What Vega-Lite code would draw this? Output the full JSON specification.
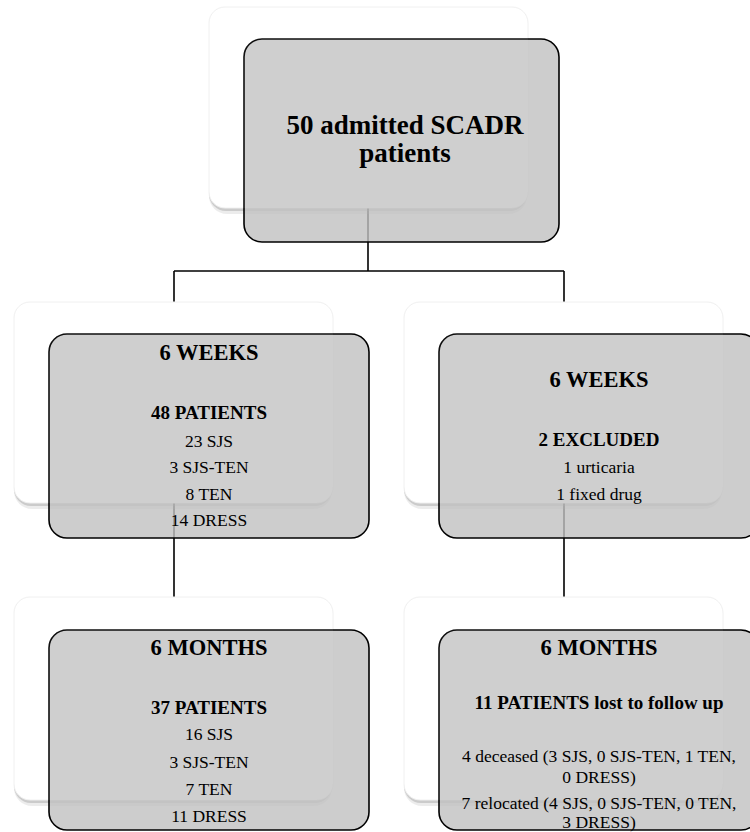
{
  "$schema": "https://vega.github.io/schema/vega-lite/v6.json",
  "width": 750,
  "height": 832,
  "padding": 0,
  "autosize": {"type": "none"},
  "background": "white",
  "config": {"view": {"stroke": null}},
  "datasets": {
    "whiteBoxes": [
      {"id": "top", "x": 209, "x2": 528, "y": 7, "y2": 208},
      {"id": "L1", "x": 14, "x2": 333, "y": 302, "y2": 503},
      {"id": "R1", "x": 404, "x2": 723, "y": 302, "y2": 503},
      {"id": "L2", "x": 14, "x2": 333, "y": 597, "y2": 800},
      {"id": "R2", "x": 404, "x2": 723, "y": 597, "y2": 800}
    ],
    "shadowsOuter": [
      {"id": "top", "x": 209, "x2": 527, "y": 14, "y2": 214},
      {"id": "L1", "x": 14, "x2": 332, "y": 309, "y2": 509},
      {"id": "R1", "x": 404, "x2": 722, "y": 309, "y2": 509},
      {"id": "L2", "x": 14, "x2": 332, "y": 604, "y2": 806},
      {"id": "R2", "x": 404, "x2": 722, "y": 604, "y2": 806}
    ],
    "shadowsInner": [
      {"id": "top", "x": 209, "x2": 527, "y": 11, "y2": 211},
      {"id": "L1", "x": 14, "x2": 332, "y": 306, "y2": 506},
      {"id": "R1", "x": 404, "x2": 722, "y": 306, "y2": 506},
      {"id": "L2", "x": 14, "x2": 332, "y": 601, "y2": 803},
      {"id": "R2", "x": 404, "x2": 722, "y": 601, "y2": 803}
    ],
    "grayBoxes": [
      {"id": "top", "x": 244, "x2": 559, "y": 39, "y2": 242},
      {"id": "L1", "x": 49, "x2": 369, "y": 334, "y2": 538},
      {"id": "R1", "x": 439, "x2": 759, "y": 334, "y2": 538},
      {"id": "L2", "x": 49, "x2": 369, "y": 630, "y2": 830},
      {"id": "R2", "x": 439, "x2": 759, "y": 630, "y2": 830}
    ],
    "links": [
      {"x": 368, "x2": 368, "y": 208, "y2": 271},
      {"x": 174, "x2": 564, "y": 271, "y2": 271},
      {"x": 174, "x2": 174, "y": 271, "y2": 302},
      {"x": 564, "x2": 564, "y": 271, "y2": 302},
      {"x": 174, "x2": 174, "y": 503, "y2": 597},
      {"x": 564, "x2": 564, "y": 503, "y2": 597}
    ],
    "labels": [
      {"kind": "title", "text": "50 admitted SCADR", "x": 405, "y": 126},
      {"kind": "title", "text": "patients", "x": 405, "y": 154},
      {"kind": "heading", "text": "6 WEEKS", "x": 209, "y": 353},
      {"kind": "heading", "text": "6 WEEKS", "x": 599, "y": 380},
      {"kind": "heading", "text": "6 MONTHS", "x": 209, "y": 648},
      {"kind": "heading", "text": "6 MONTHS", "x": 599, "y": 648},
      {"kind": "bold", "text": "48 PATIENTS", "x": 209, "y": 413},
      {"kind": "bold", "text": "2 EXCLUDED", "x": 599, "y": 440},
      {"kind": "bold", "text": "37 PATIENTS", "x": 209, "y": 708},
      {"kind": "bold", "text": "11 PATIENTS lost to follow up", "x": 599, "y": 703},
      {"kind": "body", "text": "23 SJS", "x": 209, "y": 442},
      {"kind": "body", "text": "3 SJS-TEN", "x": 209, "y": 468},
      {"kind": "body", "text": "8 TEN", "x": 209, "y": 495},
      {"kind": "body", "text": "14 DRESS", "x": 209, "y": 521},
      {"kind": "body", "text": "1 urticaria", "x": 599, "y": 468},
      {"kind": "body", "text": "1 fixed drug", "x": 599, "y": 495},
      {"kind": "body", "text": "16 SJS", "x": 209, "y": 735},
      {"kind": "body", "text": "3 SJS-TEN", "x": 209, "y": 763},
      {"kind": "body", "text": "7 TEN", "x": 209, "y": 790},
      {"kind": "body", "text": "11 DRESS", "x": 209, "y": 817},
      {"kind": "body", "text": "4 deceased (3 SJS, 0 SJS-TEN, 1 TEN,", "x": 599, "y": 757},
      {"kind": "body", "text": "0 DRESS)", "x": 599, "y": 778},
      {"kind": "body", "text": "7 relocated (4 SJS, 0 SJS-TEN, 0 TEN,", "x": 599, "y": 804},
      {"kind": "body", "text": "3 DRESS)", "x": 599, "y": 823}
    ]
  },
  "encoding": {
    "x": {"field": "x", "type": "quantitative", "axis": null, "scale": {"domain": [0, 750], "range": [0, 750], "nice": false, "zero": false}},
    "y": {"field": "y", "type": "quantitative", "axis": null, "scale": {"domain": [0, 832], "range": [0, 832], "nice": false, "zero": false}}
  },
  "layer": [
    {
      "data": {"name": "links"},
      "mark": {"type": "rule", "color": "black", "strokeWidth": 1.6},
      "encoding": {"x2": {"field": "x2"}, "y2": {"field": "y2"}}
    },
    {
      "data": {"name": "shadowsOuter"},
      "mark": {"type": "rect", "fill": "#888888", "opacity": 0.16, "cornerRadius": 18},
      "encoding": {"x2": {"field": "x2"}, "y2": {"field": "y2"}}
    },
    {
      "data": {"name": "shadowsInner"},
      "mark": {"type": "rect", "fill": "#777777", "opacity": 0.28, "cornerRadius": 17},
      "encoding": {"x2": {"field": "x2"}, "y2": {"field": "y2"}}
    },
    {
      "data": {"name": "whiteBoxes"},
      "mark": {"type": "rect", "fill": "white", "stroke": "#f0f0f0", "strokeWidth": 1, "cornerRadius": 16},
      "encoding": {"x2": {"field": "x2"}, "y2": {"field": "y2"}}
    },
    {
      "data": {"name": "grayBoxes"},
      "mark": {"type": "rect", "fill": "#c0c0c0", "fillOpacity": 0.8, "stroke": "black", "strokeWidth": 1.6, "cornerRadius": 18, "clip": true},
      "encoding": {"x2": {"field": "x2"}, "y2": {"field": "y2"}}
    },
    {
      "data": {"name": "whiteBoxes"},
      "mark": {"type": "rect", "fill": "white", "opacity": 0.06, "cornerRadius": 16},
      "encoding": {"x2": {"field": "x2"}, "y2": {"field": "y2"}}
    },
    {
      "data": {"name": "labels"},
      "transform": [{"filter": "datum.kind === 'title'"}],
      "mark": {"type": "text", "font": "Liberation Serif", "fontSize": 27, "fontWeight": "bold", "align": "center", "baseline": "middle", "color": "black"},
      "encoding": {"text": {"field": "text"}}
    },
    {
      "data": {"name": "labels"},
      "transform": [{"filter": "datum.kind === 'heading'"}],
      "mark": {"type": "text", "font": "Liberation Serif", "fontSize": 22.5, "fontWeight": "bold", "align": "center", "baseline": "middle", "color": "black"},
      "encoding": {"text": {"field": "text"}}
    },
    {
      "data": {"name": "labels"},
      "transform": [{"filter": "datum.kind === 'bold'"}],
      "mark": {"type": "text", "font": "Liberation Serif", "fontSize": 19, "fontWeight": "bold", "align": "center", "baseline": "middle", "color": "black"},
      "encoding": {"text": {"field": "text"}}
    },
    {
      "data": {"name": "labels"},
      "transform": [{"filter": "datum.kind === 'body'"}],
      "mark": {"type": "text", "font": "Liberation Serif", "fontSize": 17.5, "align": "center", "baseline": "middle", "color": "black"},
      "encoding": {"text": {"field": "text"}}
    }
  ]
}
